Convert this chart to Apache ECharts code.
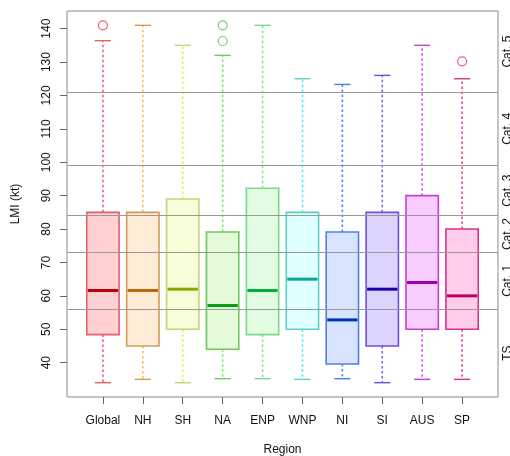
<!DOCTYPE html>
<html><head><meta charset="utf-8">
<script src="https://cdn.jsdelivr.net/npm/echarts@6/dist/echarts.min.js"></script>
<style>html,body{margin:0;padding:0;background:#fff}#c{width:510px;height:456px}</style>
</head><body><div id="c"></div>
<script>
// ---- data ----
const regions = ['Global','NH','SH','NA','ENP','WNP','NI','SI','AUS','SP'];
const whiskerLow  = [34, 35, 34, 35.2, 35.2, 35, 35.2, 34, 35, 35];
const q1          = [48.4, 45, 50, 44, 48.4, 50, 39.6, 45, 50, 50];
const median      = [61.6, 61.6, 62, 57.1, 61.6, 65, 52.8, 62, 64, 60];
const q3          = [85, 85, 89, 79.1, 92.2, 85, 79.1, 85, 90, 80];
const whiskerHigh = [136.4, 141, 135, 132, 141, 125, 123.3, 126, 135, 125];
const outlierRegion = ['Global', 'NA', 'NA', 'SP'];
const outlierValue  = [141, 141, 136.3, 130.2];
const yTicks = [40, 50, 60, 70, 80, 90, 100, 110, 120, 130, 140];
const zoneBreaks = [56, 73, 84, 99, 121];
const zoneLabels = ['TS', 'Cat. 1', 'Cat. 2', 'Cat. 3', 'Cat. 4', 'Cat. 5'];

// ---- styles ----
const boxBorder = ['#e0606c','#d49a58','#c4d478','#70c860','#7cd88c','#5cd0cc','#5080dc','#7050dc','#c440d4','#d43484'];
const boxFill   = ['#ffd0d2','#feecd6','#f6fdd8','#e4fad8','#e2fde2','#e0ffff','#d8e4ff','#dcd4ff','#f8ccff','#ffcceb'];
const medColor  = ['#c00010','#c06808','#88a800','#00a010','#00b040','#00a8a0','#0030c0','#1800b0','#9800b0','#c00060'];
const whiskColor= ['#f06070','#ffb860','#e8f050','#70f060','#70f080','#50f0f0','#4888ff','#8060ff','#e050f0','#f040a0'];
const outColor  = ['#e03a4a','#d08030','#b0c840','#50c050','#50c870','#30c0c0','#3060e0','#5030e0','#c030d0','#e03090'];

const allVals = whiskerLow.concat(whiskerHigh, outlierValue);
const dMin = Math.min(...allVals), dMax = Math.max(...allVals);
const pad = 0.04 * (dMax - dMin);
const yMin = dMin - pad, yMax = dMax + pad;
const bounds = [yMin].concat(zoneBreaks, [yMax]);
const zoneMid = zoneLabels.map((_, i) => (bounds[i] + bounds[i + 1]) / 2);

const FONT = "'Liberation Sans', Arial, Helvetica, sans-serif";
const frameL = 67, frameT = 11, frameW = 431, frameH = 386;
const unit = frameW / (regions.length + 0.8);

const boxData = regions.map((r, i) => [i, whiskerLow[i], q1[i], median[i], q3[i], whiskerHigh[i]]);
const outData = outlierRegion.map((r, k) => ({
  value: [r, outlierValue[k]],
  itemStyle: { color: 'rgba(0,0,0,0)', borderColor: outColor[regions.indexOf(r)], borderWidth: 1.2 }
}));

const chart = echarts.init(document.getElementById('c'), null, { renderer: 'canvas' });
chart.setOption({
  animation: false,
  backgroundColor: '#fff',
  grid: [
    { left: frameL, top: frameT, width: frameW, height: frameH, show: true, borderColor: '#8c8c8c', borderWidth: 1,
      backgroundColor: 'transparent', z: 0, containLabel: false, outerBoundsMode: 'none' },
    { left: frameL + 0.4 * unit, top: frameT, width: unit * regions.length, height: frameH, show: false,
      containLabel: false, outerBoundsMode: 'none' }
  ],
  xAxis: [
    { gridIndex: 0, type: 'value', min: 0, max: 1, show: false },
    { gridIndex: 1, type: 'category', data: regions, position: 'bottom',
      axisLine: { show: false },
      axisTick: { show: true, alignWithLabel: true, length: 7, inside: false, lineStyle: { color: '#666', width: 1 } },
      axisLabel: { color: '#111', fontSize: 12, fontFamily: FONT, margin: 18, interval: 0 },
      name: 'Region', nameLocation: 'middle', nameGap: 47,
      nameTextStyle: { color: '#111', fontSize: 12, fontFamily: FONT }
    }
  ],
  yAxis: [
    { gridIndex: 0, type: 'value', min: yMin, max: yMax, position: 'left',
      axisLine: { show: false }, splitLine: { show: false },
      axisTick: { show: true, length: 7, customValues: yTicks, lineStyle: { color: '#666' } },
      axisLabel: { customValues: yTicks, rotate: 90, margin: 14, color: '#111', fontSize: 12, fontFamily: FONT },
      name: 'LMI (kt)', nameLocation: 'middle', nameGap: 45, nameRotate: 90,
      nameTextStyle: { color: '#111', fontSize: 12, fontFamily: FONT }
    },
    { gridIndex: 0, type: 'value', min: yMin, max: yMax, position: 'right',
      axisLine: { show: false }, splitLine: { show: false }, axisTick: { show: false },
      axisLabel: { customValues: zoneMid, rotate: 90, margin: 4, color: '#111', fontSize: 12, fontFamily: FONT,
        formatter: v => { const k = zoneMid.findIndex(m => Math.abs(m - v) < 1e-6); return k >= 0 ? zoneLabels[k] : ''; } }
    },
    { gridIndex: 1, type: 'value', min: yMin, max: yMax, show: false }
  ],
  series: [
    { type: 'line', xAxisIndex: 0, yAxisIndex: 0, data: [], silent: true,
      markLine: { silent: true, symbol: 'none', label: { show: false },
        lineStyle: { color: '#999', type: 'solid', width: 1.2 },
        data: zoneBreaks.map(b => ({ yAxis: b })) } },
    { type: 'custom', xAxisIndex: 1, yAxisIndex: 2, data: boxData, z: 3,
      renderItem: (params, api) => {
        const i = params.dataIndex;
        const x = api.value(0);
        const pLow = api.coord([x, api.value(1)]);
        const pQ1 = api.coord([x, api.value(2)]);
        const pMed = api.coord([x, api.value(3)]);
        const pQ3 = api.coord([x, api.value(4)]);
        const pHigh = api.coord([x, api.value(5)]);
        const band = api.size([1, 0])[0];
        const bw = band * 0.81, cw = bw * 0.5, cx = pMed[0];
        const wStyle = { stroke: whiskColor[i], lineWidth: 1.6, lineDash: [2.5, 2.5] };
        const cStyle = { stroke: boxBorder[i], lineWidth: 1.4 };
        return { type: 'group', children: [
          { type: 'line', shape: { x1: cx, y1: pQ3[1], x2: cx, y2: pHigh[1] }, style: wStyle },
          { type: 'line', shape: { x1: cx, y1: pQ1[1], x2: cx, y2: pLow[1] }, style: wStyle },
          { type: 'line', shape: { x1: cx - cw / 2, y1: pHigh[1], x2: cx + cw / 2, y2: pHigh[1] }, style: cStyle },
          { type: 'line', shape: { x1: cx - cw / 2, y1: pLow[1], x2: cx + cw / 2, y2: pLow[1] }, style: cStyle },
          { type: 'rect', shape: { x: cx - bw / 2, y: pQ3[1], width: bw, height: pQ1[1] - pQ3[1] },
            style: { fill: boxFill[i], stroke: boxBorder[i], lineWidth: 1.6 } },
          { type: 'line', shape: { x1: cx - bw / 2 + 1, y1: pMed[1], x2: cx + bw / 2 - 1, y2: pMed[1] },
            style: { stroke: medColor[i], lineWidth: 3 } }
        ] };
      } },
    { type: 'scatter', xAxisIndex: 1, yAxisIndex: 2, data: outData, symbol: 'circle', symbolSize: 9, z: 4, silent: true }
  ]
});
</script></body></html>
